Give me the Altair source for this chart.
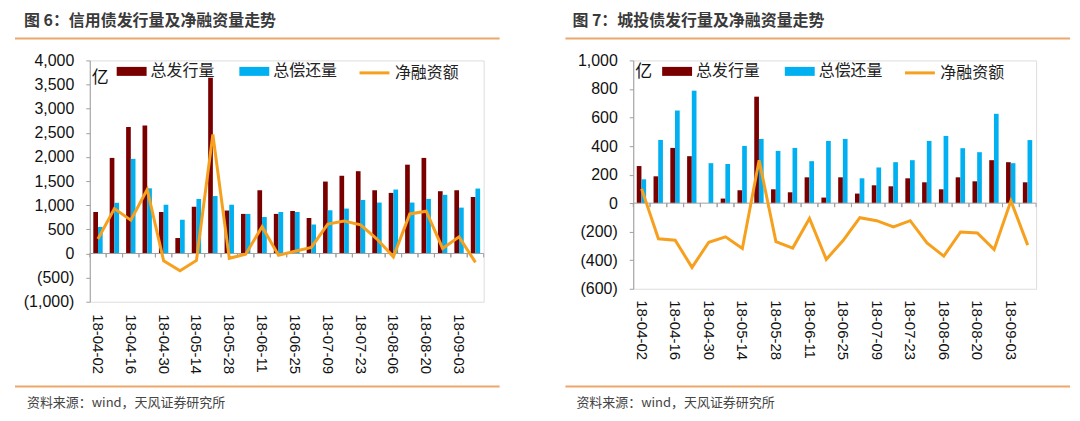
import altair as alt
import pandas as pd

dates = ["18-04-02", "18-04-09", "18-04-16", "18-04-23", "18-04-30", "18-05-07",
         "18-05-14", "18-05-21", "18-05-28", "18-06-04", "18-06-11", "18-06-18",
         "18-06-25", "18-07-02", "18-07-09", "18-07-16", "18-07-23", "18-07-30",
         "18-08-06", "18-08-13", "18-08-20", "18-08-27", "18-09-03", "18-09-10"]
label_dates = dates[::2]

series_names = ["总发行量", "总偿还量"]
line_name = "净融资额"

# 图6 信用债
credit_issue = [860, 1980, 2620, 2650, 860, 320, 970, 3640, 890, 820, 1310, 820,
                880, 735, 1490, 1610, 1705, 1310, 1255, 1840, 1980, 1290, 1310, 1170]
credit_repay = [550, 1050, 1960, 1350, 1010, 700, 1130, 1190, 1010, 820, 755, 860,
                860, 600, 895, 930, 1110, 1055, 1325, 1055, 1130, 1215, 950, 1345]
credit_net = [300, 930, 690, 1325, -150, -360, -145, 2465, -100, -15, 555, -35,
              45, 125, 610, 670, 595, 300, -70, 820, 875, 105, 345, -185]

# 图7 城投债
urban_issue = [260, 188, 387, 329, 0, 32, 90, 746, 97, 76, 181, 39,
               181, 67, 125, 118, 174, 146, 97, 181, 153, 301, 287, 146]
urban_repay = [167, 443, 649, 788, 280, 274, 401, 450, 366, 387, 294, 436,
               450, 174, 250, 287, 301, 436, 471, 385, 357, 626, 280, 442]
urban_net = [100, -250, -260, -450, -274, -236, -318, 301, -269, -315, -107, -394,
             -262, -102, -123, -167, -123, -278, -371, -202, -209, -325, 16, -294]

titles = ["图 6：信用债发行量及净融资量走势", "图 7：城投债发行量及净融资量走势"]
source_text = "资料来源：wind，天风证券研究所"
unit_text = "亿"

RED = "#7A0000"
BLUE = "#00B0F0"
ORANGE = "#F6A01E"
SEP = "#EBA76A"
GRAY = "#A0A0A0"
NUM_FONT = "Liberation Sans"
CJK_FONT = "Noto Sans CJK SC"

label_expr = "datum.value < 0 ? '(' + format(-datum.value, ',') + ')' : format(datum.value, ',')"


def panel(issue, repay, net, ydom, yvals, width, height, title, tick_units,
          lx, yi_y, sep_x1, sep_x2, title_x, src_x, xpad):
    bars_df = pd.DataFrame({
        "date": dates * 2,
        "series": [series_names[0]] * len(dates) + [series_names[1]] * len(dates),
        "value": issue + repay,
    })
    line_df = pd.DataFrame({"date": dates, "net": net, "name": line_name})
    one = pd.DataFrame({"z": [0]})

    y_axis = alt.Axis(values=yvals, labelExpr=label_expr, grid=False,
                      domainColor=GRAY, tickColor=GRAY, tickSize=4,
                      labelPadding=12, labelFont=NUM_FONT,
                      labelOverlap=False, labelFlush=False,
                      labelFontSize=16, labelColor="#111111")
    y_scale = alt.Scale(domain=ydom, nice=False, zero=False)

    zero = alt.Chart(one).mark_rule(color=GRAY, strokeWidth=1).encode(
        y=alt.Y("z:Q", title=None, axis=y_axis, scale=y_scale)
    )
    ticks_l = alt.Chart(line_df).mark_rule(color=GRAY, strokeWidth=1).encode(
        x=alt.X("date:N", bandPosition=0, title=None),
        y=alt.Y(datum=0, axis=y_axis, title=None),
        y2=alt.datum(-tick_units),
    )
    ticks_r = alt.Chart(line_df).mark_rule(color=GRAY, strokeWidth=1).encode(
        x=alt.X("date:N", bandPosition=1, title=None),
        y=alt.Y(datum=0, axis=y_axis, title=None),
        y2=alt.datum(-tick_units),
    )
    bars = alt.Chart(bars_df).mark_bar().encode(
        x=alt.X("date:N", title=None,
                scale=alt.Scale(domain=dates, paddingInner=0, paddingOuter=0),
                axis=alt.Axis(values=label_dates, labelAngle=90, domain=False,
                              ticks=False, tickSize=0, labelPadding=xpad,
                              labelFont=NUM_FONT, labelFontSize=15,
                              labelOverlap=False,
                              labelColor="#111111", grid=False)),
        xOffset=alt.XOffset("series:N",
                            scale=alt.Scale(domain=series_names, paddingInner=0,
                                            paddingOuter=0.75)),
        y=alt.Y("value:Q", stack=None, title=None, scale=y_scale, axis=y_axis),
        color=alt.Color("series:N",
                        scale=alt.Scale(domain=series_names, range=[RED, BLUE]),
                        legend=alt.Legend(orient="none", legendX=lx, legendY=-4,
                                          direction="horizontal", title=None,
                                          symbolType="M-1,-0.3H1V0.3H-1Z",
                                          symbolSize=900, symbolStrokeWidth=0,
                                          labelFont=CJK_FONT, labelFontSize=16,
                                          labelColor="#222222", labelOffset=4,
                                          columnPadding=24)),
    )
    line = alt.Chart(line_df).mark_line(strokeWidth=3).encode(
        x=alt.X("date:N", title=None),
        y=alt.Y("net:Q", title=None, axis=y_axis, scale=y_scale),
        stroke=alt.Stroke("name:N",
                          scale=alt.Scale(domain=[line_name], range=[ORANGE]),
                          legend=alt.Legend(orient="none", legendX=lx + 242,
                                            legendY=-4, title=None,
                                            symbolType="stroke", symbolSize=900,
                                            symbolStrokeWidth=3,
                                            labelFont=CJK_FONT, labelFontSize=16,
                                            labelColor="#222222", labelOffset=4)),
    )
    t = alt.Chart(pd.DataFrame({"t": [title]})).mark_text(
        align="left", baseline="top", fontSize=16, fontWeight="bold",
        font=CJK_FONT, color="#3A3A3A"
    ).encode(x=alt.value(title_x), y=alt.value(-48), text="t:N")
    src = alt.Chart(pd.DataFrame({"t": [source_text]})).mark_text(
        align="left", baseline="middle", fontSize=13, font=CJK_FONT, color="#444444"
    ).encode(x=alt.value(src_x), y=alt.value(344), text="t:N")
    unit = alt.Chart(pd.DataFrame({"t": [unit_text]})).mark_text(
        align="left", baseline="middle", fontSize=17, font=CJK_FONT, color="#111111"
    ).encode(x=alt.value(2), y=alt.value(yi_y), text="t:N")
    sep_top = alt.Chart(one).mark_rule(color=SEP, strokeWidth=2).encode(
        x=alt.value(sep_x1), x2=alt.value(sep_x2), y=alt.value(-22))
    sep_bot = alt.Chart(one).mark_rule(color=SEP, strokeWidth=2).encode(
        x=alt.value(sep_x1), x2=alt.value(sep_x2), y=alt.value(327))

    return alt.layer(bars, zero, ticks_l, ticks_r, line, t, src, unit,
                     sep_top, sep_bot).properties(width=width, height=height)


left = panel(credit_issue, credit_repay, credit_net, [-1000, 4000],
             list(range(-1000, 4001, 500)), 395, 242, titles[0], 80,
             27, 18, -75, 411, -66, -63, 12)
right = panel(urban_issue, urban_repay, urban_net, [-600, 1000],
              list(range(-600, 1001, 200)), 404, 229, titles[1], 28,
              29, 12, -68, 438, -61, -57, 11)

chart = alt.hconcat(left, right, spacing=62).resolve_scale(
    color="independent", stroke="independent"
).properties(
    padding={"left": 5, "top": 3, "right": 0, "bottom": 0}
).configure_view(stroke=None).configure(background="white")

chart.save("out.html", embed_options={"renderer": "svg", "actions": False})
